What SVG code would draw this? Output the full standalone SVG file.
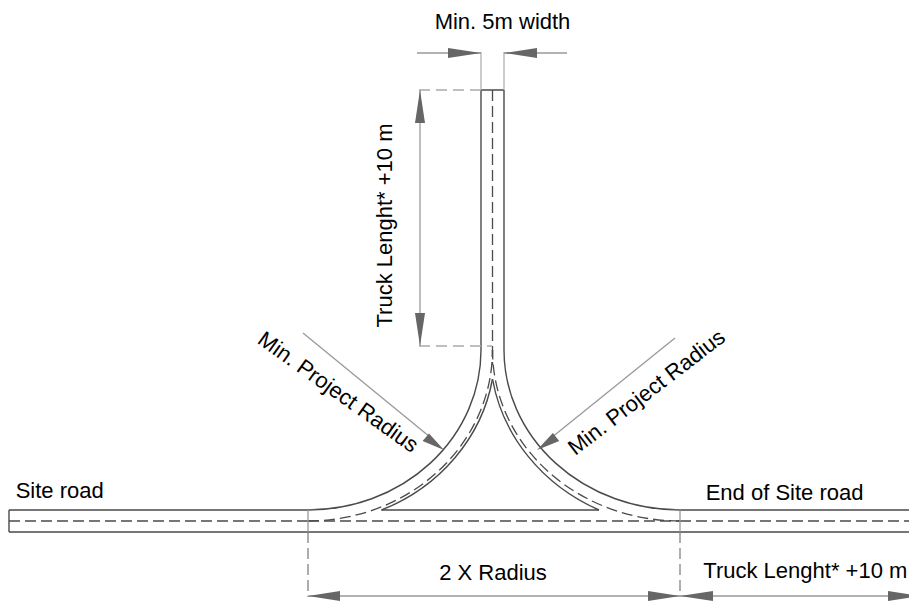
<svg xmlns="http://www.w3.org/2000/svg" width="909" height="601" viewBox="0 0 909 601">
<style>
.road{fill:none;stroke:#4a4a4a;stroke-width:1.4}
.cl{fill:none;stroke:#4a4a4a;stroke-width:1.3;stroke-dasharray:11 5}
.ext{fill:none;stroke:#aaa;stroke-width:1.2}
.extd{fill:none;stroke:#aaa;stroke-width:1.3;stroke-dasharray:11 6}
.extv{fill:none;stroke:#777;stroke-width:1.2;stroke-dasharray:11 5}
.dim{fill:none;stroke:#999;stroke-width:1.3}
.ah{fill:#666;stroke:none}
.t{font-family:"Liberation Sans",Arial,sans-serif;font-size:22px;fill:#000}
</style>
<rect width="909" height="601" fill="#fff"/>
<g id="road">
  <path class="road" d="M9,510 H308 M680,510 H909 M9,532 H909 M9,510 V532 M381.5,510 H599"/>
  <path class="road" d="M481,90 H504 M481,90 V350 M504,90 V350"/>
  <path class="road" d="M308,510 A173,160 0 0 0 481,350"/>
  <path class="road" d="M381.5,510 A187,174 0 0 0 492.5,379"/>
  <path class="road" d="M680,510 A176,160 0 0 1 504,350"/>
  <path class="road" d="M599,510 A190.6,176.8 0 0 1 492.5,379"/>
  <path class="cl" d="M9,521 H308 M680,521 H909"/>
  <path class="cl" d="M492.5,90 V365"/>
  <path class="cl" d="M308,521 A184.5,171 0 0 0 492.5,350"/>
  <path class="cl" d="M680,521 A187.5,171 0 0 1 492.5,350"/>
  <path class="cl" d="M308,521 H680"/>
  <path class="dim" d="M308,510 V532 M680,510 V532"/>
</g>
<g id="connectors">
  <path class="ext" d="M481,52 V90 M504,52 V90"/>
  <path class="dim" d="M417,53 H481 M504,53 H567"/>
  <polygon class="ah" points="481,53 448,48 448,58"/>
  <polygon class="ah" points="504,53 537,48 537,58"/>
  <path class="extd" d="M419,90 H481 M419,346 H492"/>
  <path class="dim" d="M420,90 V346"/>
  <polygon class="ah" points="420,90 415,123 425,123"/>
  <polygon class="ah" points="420,346 415,313 425,313"/>
  <path class="dim" d="M303,333 L430,437"/>
  <polygon class="ah" points="444,450 422.6,441.1 429.0,433.4"/>
  <path class="dim" d="M675,338 L551,438"/>
  <polygon class="ah" points="537,450 552.9,433.1 559.2,440.9"/>
  <path class="extv" d="M308,532 V597 M680,532 V597"/>
  <path class="dim" d="M308,596 H918"/>
  <polygon class="ah" points="308,596 340,591 340,601"/>
  <polygon class="ah" points="680,596 648,591 648,601"/>
  <polygon class="ah" points="680,596 713,591 713,601"/>
  <polygon class="ah" points="920,596 888,591 888,601"/>
</g>
<g id="labels">
  <text class="t" x="502.5" y="29" text-anchor="middle">Min. 5m width</text>
  <text class="t" transform="translate(391.5,225.5) rotate(-90)" text-anchor="middle">Truck Lenght* +10 m</text>
  <text class="t" transform="translate(334,398) rotate(35.5)" text-anchor="middle">Min. Project Radius</text>
  <text class="t" transform="translate(651,398) rotate(-37.5)" text-anchor="middle">Min. Project Radius</text>
  <text class="t" x="15.7" y="498">Site road</text>
  <text class="t" x="705.7" y="500">End of Site road</text>
  <text class="t" x="493" y="580" text-anchor="middle">2 X Radius</text>
  <text class="t" x="703.3" y="578">Truck Lenght* +10 m</text>
</g>
</svg>
